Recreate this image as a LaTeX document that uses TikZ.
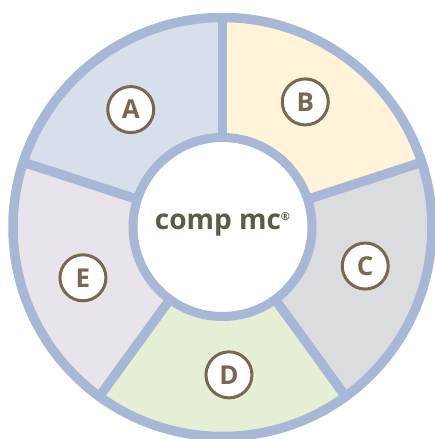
\documentclass[tikz,border=0pt]{standalone}
\usepackage{fontspec}
\setmainfont{Open Sans}
\definecolor{ringblue}{HTML}{A7B7D5}
\definecolor{fillA}{HTML}{D7DEEC}
\definecolor{fillB}{HTML}{FFF4DA}
\definecolor{fillC}{HTML}{DADCDF}
\definecolor{fillD}{HTML}{E4EFD5}
\definecolor{fillE}{HTML}{E9E4EC}
\definecolor{labelbrown}{HTML}{7A6752}
\definecolor{centertext}{HTML}{5A5C47}
\tikzset{
  ring/.style={draw=ringblue,line width=9.5pt},
  letterbox/.style={circle,draw=labelbrown,line width=3pt,fill=white,minimum size=46pt,
    inner sep=0pt,text=labelbrown,font=\fontsize{26}{26}\selectfont\bfseries}
}
\begin{document}
\begin{tikzpicture}[x=1pt,y=1pt]
        \def\rin{89.5} \def\rout{209.5}
        \useasboundingbox (-222.5,-212) rectangle (212.5,227);

        \fill[fillA] (90:\rout) arc (90:162:\rout) -- (162:\rin) arc (162:90:\rin) -- cycle;
        \fill[fillB] (18:\rout) arc (18:90:\rout) -- (90:\rin) arc (90:18:\rin) -- cycle;
        \fill[fillC] (-54:\rout) arc (-54:18:\rout) -- (18:\rin) arc (18:-54:\rin) -- cycle;
        \fill[fillD] (-126:\rout) arc (-126:-54:\rout) -- (-54:\rin) arc (-54:-126:\rin) -- cycle;
        \fill[fillE] (162:\rout) arc (162:234:\rout) -- (234:\rin) arc (234:162:\rin) -- cycle;

        \draw[ring] (90:\rin) -- (90:\rout);
        \draw[ring] (18:\rin) -- (18:\rout);
        \draw[ring] (-54:\rin) -- (-54:\rout);
        \draw[ring] (-126:\rin) -- (-126:\rout);
        \draw[ring] (162:\rin) -- (162:\rout);

        \draw[ring] (0,0) circle (\rout);
        \draw[ring,line width=9pt,fill=white] (0,0) circle (\rin);

        \node (core) at (0,3) [text=centertext,font=\fontsize{28}{28}\selectfont\bfseries]
          {comp mc\raisebox{9pt}{\fontsize{11}{11}\selectfont ®}};

        \node (segA) at (128:149) [letterbox] {A};
        \node (segB) at (56.5:150) [letterbox] {B};
        \node (segC) at (-15.3:148) [letterbox] {C};
        \node (segD) at (-87.5:148) [letterbox] {D};
        \node (segE) at (200:148.5) [letterbox] {E};
      \end{tikzpicture}
\end{document}
